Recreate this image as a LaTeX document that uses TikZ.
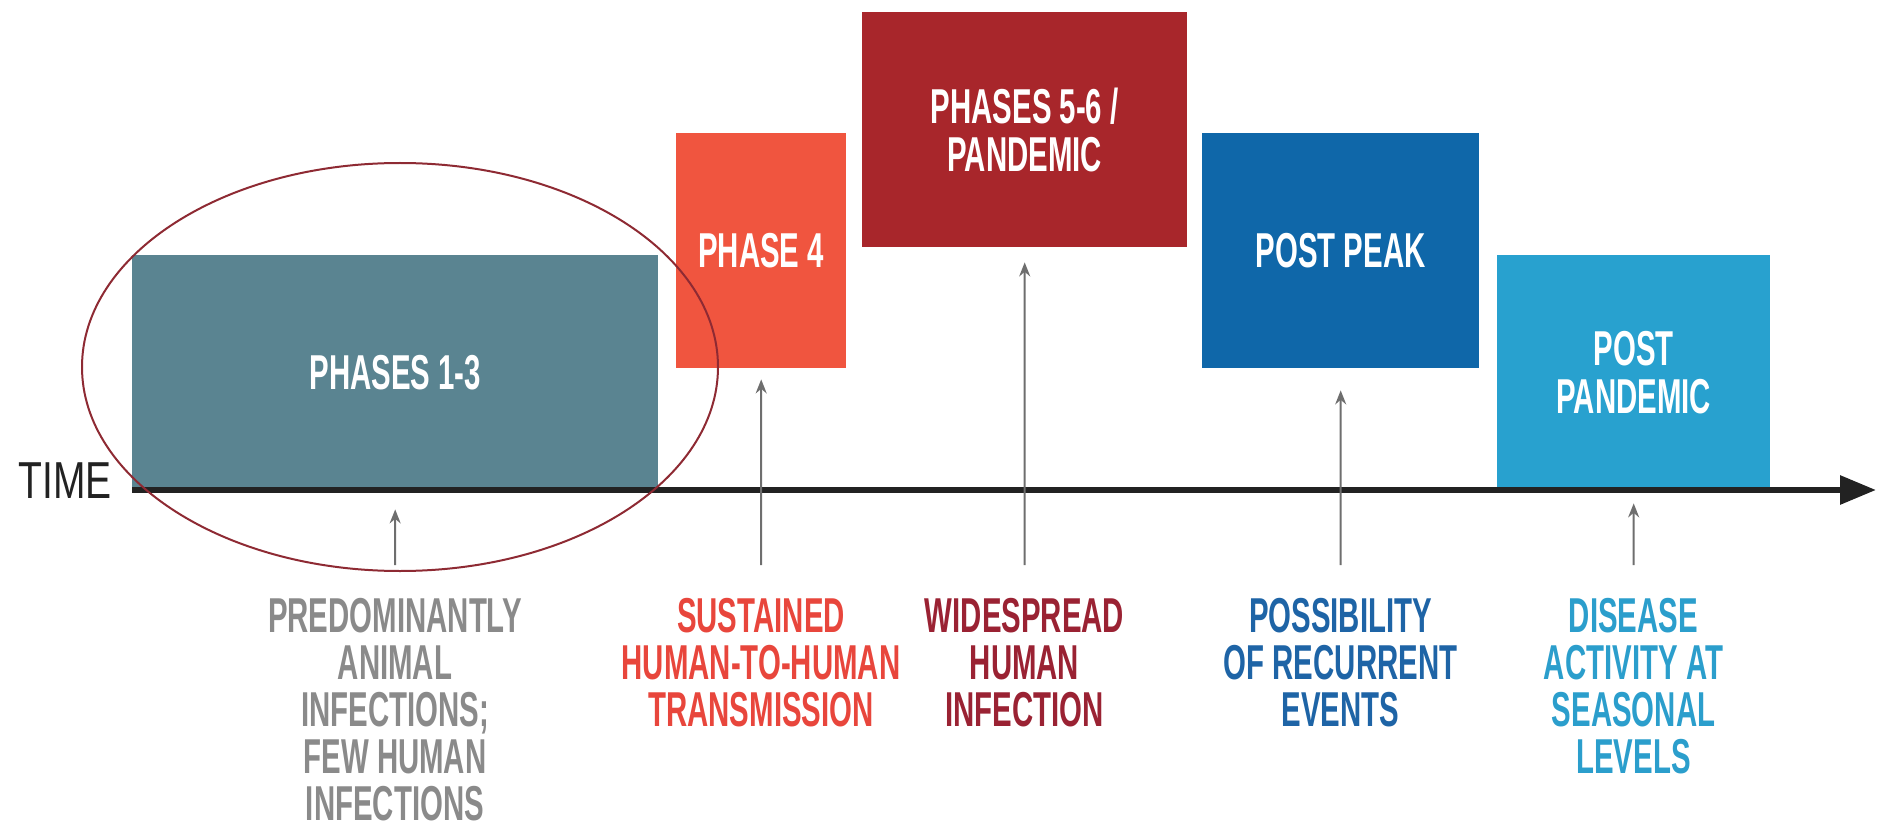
\documentclass[tikz,border=0pt]{standalone}
\usepackage{fontspec}
\setmainfont{Liberation Sans}
\newfontfamily\condfont{Liberation Sans}[FakeStretch=0.6]
\newfontfamily\timefont{Liberation Sans}[FakeStretch=0.75]
\usetikzlibrary{arrows.meta}
\definecolor{cTeal}{HTML}{5A8491}
\definecolor{cOrange}{HTML}{F0553F}
\definecolor{cRed}{HTML}{A8262B}
\definecolor{cBlue}{HTML}{0F67A9}
\definecolor{cLight}{HTML}{28A1CF}
\definecolor{lGray}{HTML}{8A8A8A}
\definecolor{lOrange}{HTML}{E8463C}
\definecolor{lRed}{HTML}{9A2233}
\definecolor{lBlue}{HTML}{1E64A6}
\definecolor{lLight}{HTML}{2B9ECC}
\definecolor{ellcol}{HTML}{8E2A33}
\definecolor{axiscol}{HTML}{222222}
\definecolor{ptrcol}{HTML}{6E6E6E}
\begin{document}
\begin{tikzpicture}[x=1pt,y=-1pt,
  phasebox/.style={anchor=north west, inner sep=0pt, text=white,
    font=\condfont\bfseries\fontsize{49}{48}\selectfont, align=center,
    minimum height=235pt},
  desc/.style={anchor=north, inner sep=0pt, align=center,
    font=\condfont\bfseries\fontsize{49}{47}\selectfont},
  ptr/.style={draw=ptrcol, line width=2pt, -{Stealth[length=14pt,width=11pt]}},
]
\useasboundingbox (0,0) rectangle (1879,834);
% phase boxes
\node[phasebox, fill=cTeal, minimum width=526pt] (p13) at (132,255) {PHASES 1-3};
\node[phasebox, fill=cOrange, minimum width=170pt] (p4) at (676,133) {PHASE 4};
\node[phasebox, fill=cRed, minimum width=325pt] (p56) at (862,12) {PHASES 5-6 /\\PANDEMIC};
\node[phasebox, fill=cBlue, minimum width=277pt] (pp) at (1202,133) {POST PEAK};
\node[phasebox, fill=cLight, minimum width=273pt] (ppd) at (1497,255) {POST\\PANDEMIC};
% time axis
\node[anchor=east, inner sep=0pt, font=\timefont\fontsize{52}{52}\selectfont, text=axiscol] (time) at (112,481) {TIME};
\coordinate (ts) at (132,490);
\coordinate (te) at (1876,490);
\draw[axiscol, line width=6pt, -{Triangle[length=36pt,width=28pt]}] (ts) -- (te);
% descriptions
\node[desc, text=lGray] (l1) at (395,598) {PREDOMINANTLY\\ANIMAL\\INFECTIONS;\\FEW HUMAN\\INFECTIONS};
\node[desc, text=lOrange] (l2) at (761,598) {SUSTAINED\\HUMAN-TO-HUMAN\\TRANSMISSION};
\node[desc, text=lRed] (l3) at (1024.5,598) {WIDESPREAD\\HUMAN\\INFECTION};
\node[desc, text=lBlue] (l4) at (1340.5,598) {POSSIBILITY\\OF RECURRENT\\EVENTS};
\node[desc, text=lLight] (l5) at (1633.5,598) {DISEASE\\ACTIVITY AT\\SEASONAL\\LEVELS};
% pointers
\draw[ptr] ([yshift=33pt]l1.north) -- ([yshift=-19pt]p13.south);
\draw[ptr] ([yshift=33pt]l2.north) -- ([yshift=-11pt]p4.south);
\draw[ptr] ([yshift=33pt]l3.north) -- ([yshift=-15pt]p56.south);
\draw[ptr] ([yshift=33pt]l4.north) -- ([yshift=-22pt]pp.south);
\draw[ptr] ([yshift=33pt]l5.north) -- ([yshift=-13pt]ppd.south);
% highlight ellipse
\draw[ellcol, line width=2pt] (400,367) ellipse [x radius=318pt, y radius=204pt];
\end{tikzpicture}
\end{document}
